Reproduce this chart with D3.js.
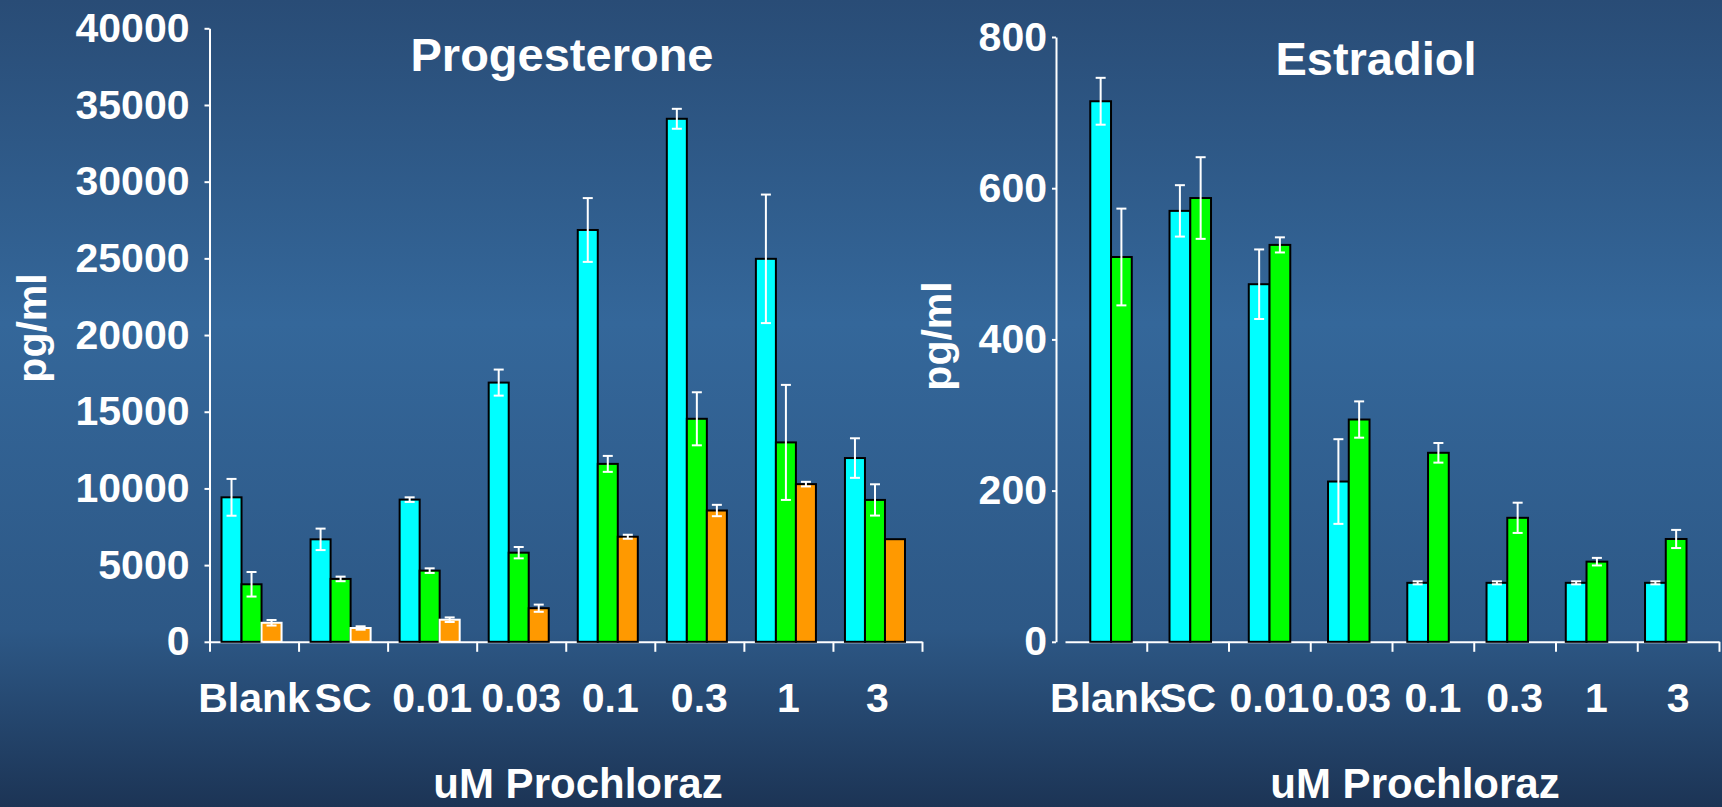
<!DOCTYPE html>
<html>
<head>
<meta charset="utf-8">
<script src="https://cdn.jsdelivr.net/npm/d3@7"></script>
<style>
  html, body { margin: 0; padding: 0; overflow: hidden; }
  text { font-family: "Liberation Sans", Arial, sans-serif; font-weight: bold; fill: #fff; }
</style>
</head>
<body>
<svg id="chart"></svg>
<script>
// Data
const categories = ["Blank", "SC", "0.01", "0.03", "0.1", "0.3", "1", "3"];

const progCyan      = [9420, 6680, 9270, 16900, 26850, 34100, 24970, 11980];
const progCyanErr   = [1200, 700, 150, 850, 2080, 650, 4190, 1290];
const progGreen     = [3750, 4100, 4640, 5810, 11600, 14540, 13000, 9250];
const progGreenErr  = [800, 150, 150, 370, 520, 1730, 3750, 1020];
const progOrange    = [1240, 900, 1440, 2190, 6850, 8560, 10280, 6690];
const progOrangeErr = [180, 110, 150, 235, 130, 370, 150, 0];
const progTicks     = [0, 5000, 10000, 15000, 20000, 25000, 30000, 35000, 40000];

const estCyan     = [715, 570, 473, 212, 78, 78, 78, 78];
const estCyanErr  = [31, 34, 46, 56, 2, 2, 2, 2];
const estGreen    = [509, 587, 525, 294, 250, 164, 106, 136];
const estGreenErr = [64, 54, 10, 24, 13, 20, 5, 12];
const estTicks    = [0, 200, 400, 600, 800];

const colors = ["#00ffff", "#00ff00", "#ff9900"];
const whiteEdged = ["Blank", "SC", "0.01"]; // orange bars drawn with a white edge

// Chart dimensions
const width = 1722;
const height = 807;

const svg = d3.select('#chart')
  .attr('width', width)
  .attr('height', height);

// Background gradient
const grad = svg.append('defs').append('linearGradient')
  .attr('id', 'bg').attr('x1', 0).attr('y1', 0).attr('x2', 0).attr('y2', 1);
grad.append('stop').attr('offset', '0%').attr('stop-color', '#294c76');
grad.append('stop').attr('offset', '40%').attr('stop-color', '#34679a');
grad.append('stop').attr('offset', '78%').attr('stop-color', '#2d5886');
grad.append('stop').attr('offset', '100%').attr('stop-color', '#1c3455');
svg.append('rect').attr('width', width).attr('height', height).attr('fill', 'url(#bg)');

function drawPanel(opts) {
  const g = svg.append('g');
  const nCat = categories.length;

  // Y scale
  const yScale = d3.scaleLinear().domain(opts.yDomain).range([opts.y0, opts.yTop]);

  // X scales: one for ticks/labels, one for bar groups
  const xTick = d3.scaleBand().domain(categories).range(opts.xRange);
  const xBoundary = d3.scaleLinear().domain([0, nCat]).range(opts.xRange);
  const xBars = d3.scaleBand().domain(categories).range(opts.barRange);
  const xInner = d3.scaleBand()
    .domain(d3.range(opts.series.length))
    .range([0, xBars.bandwidth()])
    .paddingOuter(opts.innerPad)
    .align(opts.innerAlign);

  // Y axis
  const yAxis = d3.axisLeft(yScale)
    .tickValues(opts.yTicks)
    .tickSize(opts.yTickSize)
    .tickSizeOuter(0)
    .tickPadding(opts.yTickPad)
    .tickFormat(d3.format('d'));
  const ya = g.append('g')
    .attr('transform', `translate(${opts.yAxisX}, 0)`)
    .call(yAxis);
  ya.selectAll('path, line').attr('stroke', '#fff').attr('stroke-width', 2);
  ya.selectAll('text').style('font-size', '41px').attr('fill', '#fff')
    .style('font-family', '"Liberation Sans", Arial, sans-serif').style('font-weight', 'bold');

  // X axis line with boundary ticks
  const xAxis = d3.axisBottom(xBoundary)
    .tickValues(opts.boundaryTicks)
    .tickSize(10)
    .tickSizeOuter(0)
    .tickFormat('');
  const xa = g.append('g')
    .attr('transform', `translate(0, ${opts.y0})`)
    .call(xAxis);
  xa.selectAll('path, line').attr('stroke', '#fff').attr('stroke-width', 2);

  // X labels
  const xl = g.append('g')
    .attr('transform', `translate(0, ${opts.y0})`)
    .call(d3.axisBottom(xTick).tickSize(0));
  xl.select('.domain').remove();
  xl.selectAll('text')
    .attr('y', 70).attr('dy', 0)
    .style('font-size', '41px').attr('fill', '#fff')
    .style('font-family', '"Liberation Sans", Arial, sans-serif').style('font-weight', 'bold');

  // Bars
  opts.series.forEach((vals, si) => {
    const groups = g.append('g');
    groups.selectAll('.bar')
      .data(vals)
      .enter().append('rect')
      .attr('class', 'bar')
      .attr('x', (d, i) => xBars(categories[i]) + xInner(si))
      .attr('y', d => yScale(d))
      .attr('width', xInner.bandwidth())
      .attr('height', d => opts.y0 - yScale(d))
      .attr('fill', colors[si])
      .attr('stroke', (d, i) => (si === 2 && whiteEdged.includes(categories[i])) ? '#fff' : '#000')
      .attr('stroke-width', 2);
  });

  // Error bars
  opts.series.forEach((vals, si) => {
    const errs = opts.errors[si];
    const cap = 5;
    vals.forEach((v, i) => {
      if (!errs[i]) return;
      const cx = xBars(categories[i]) + xInner(si) + xInner.bandwidth() / 2;
      const yHi = yScale(v + errs[i]);
      const yLo = yScale(v - errs[i]);
      const eb = g.append('g').attr('stroke', '#fff').attr('stroke-width', 2);
      eb.append('line').attr('x1', cx).attr('x2', cx).attr('y1', yHi).attr('y2', yLo);
      eb.append('line').attr('x1', cx - cap).attr('x2', cx + cap).attr('y1', yHi).attr('y2', yHi);
      eb.append('line').attr('x1', cx - cap).attr('x2', cx + cap).attr('y1', yLo).attr('y2', yLo);
    });
  });

  // Titles
  g.append('text')
    .attr('x', opts.titleX).attr('y', opts.titleY)
    .attr('text-anchor', 'middle')
    .style('font-size', '47px')
    .text(opts.title);

  g.append('text')
    .attr('x', opts.xTitleX).attr('y', 798)
    .attr('text-anchor', 'middle')
    .style('font-size', '42px')
    .text('uM Prochloraz');

  g.append('text')
    .attr('transform', `translate(${opts.yTitleX}, ${opts.yTitleY}) rotate(-90)`)
    .attr('text-anchor', 'middle')
    .style('font-size', '41px')
    .text('pg/ml');
}

// Progesterone panel
drawPanel({
  title: 'Progesterone', titleX: 562, titleY: 71,
  xTitleX: 578, yTitleX: 46, yTitleY: 328,
  yDomain: [0, 40000], yTicks: progTicks,
  y0: 641.8, yTop: 28.3,
  yAxisX: 209.5, yTickSize: 5, yTickPad: 15,
  xRange: [209.5, 922], barRange: [209.5, 922],
  boundaryTicks: d3.range(0, 9),
  innerPad: 0.725, innerAlign: 0.414,
  series: [progCyan, progGreen, progOrange],
  errors: [progCyanErr, progGreenErr, progOrangeErr]
});

// Estradiol panel
drawPanel({
  title: 'Estradiol', titleX: 1376, titleY: 75,
  xTitleX: 1415, yTitleX: 951, yTitleY: 336,
  yDomain: [0, 800], yTicks: estTicks,
  y0: 641.8, yTop: 37,
  yAxisX: 1056, yTickSize: 4, yTickPad: 5,
  xRange: [1065, 1719], barRange: [1071.4, 1705.4],
  boundaryTicks: d3.range(1, 9),
  innerPad: 0.91, innerAlign: 0.5,
  series: [estCyan, estGreen],
  errors: [estCyanErr, estGreenErr]
});
</script>
</body>
</html>
